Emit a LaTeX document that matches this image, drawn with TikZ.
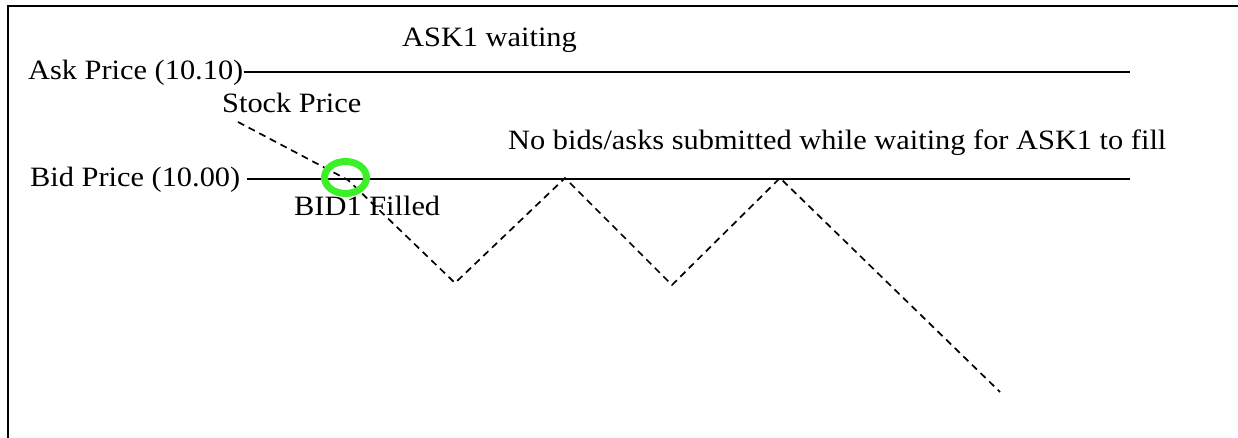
\documentclass[tikz,border=0pt]{standalone}
\usepackage{fontspec}
\setmainfont[FakeStretch=1.085]{Liberation Serif}
\definecolor{hlgreen}{RGB}{60,240,40}
\tikzset{
  lbl/.style={inner sep=0pt, anchor=base west, font=\fontsize{28}{32}\selectfont},
  level/.style={line width=2.2pt, black},
  price/.style={line width=1.7pt, black, dash pattern=on 7pt off 5pt},
  frame/.style={line width=2.8pt, black},
  fillmark/.style={draw=hlgreen, line width=7pt, ellipse, minimum width=42pt, minimum height=32pt, inner sep=0pt}
}
\usetikzlibrary{shapes.geometric}
\begin{document}
\begin{tikzpicture}[x=1pt,y=-1pt]
\useasboundingbox (0,0) rectangle (1238,438);
% frame
\coordinate (fTL) at (8,6);
\coordinate (fTR) at (1240,6);
\coordinate (fBL) at (8,440);
\draw[frame] (fBL) -- (fTL) -- (fTR);
% labels
\node[lbl] (ask) at (28,80) {Ask Price (10.10)};
\node[lbl] (bid) at (30,187) {Bid Price (10.00)};
\node[lbl] (wait) at (402,47) {ASK1 waiting};
\node[lbl] (stock) at (222,113) {Stock Price};
\node[lbl] (nobids) at (508,150) {No bids/asks submitted while waiting for ASK1 to fill};
\node[lbl] (bidfill) at (294,216) {BID1 Filled};
% levels
\coordinate (askS) at (ask.east |- 0,72);
\coordinate (askE) at (1130,72);
\coordinate (bidS) at (247,179);
\coordinate (bidE) at (1130,179);
\draw[level] (askS) -- (askE);
\draw[level] (bidS) -- (bidE);
% stock price path
\coordinate (p0) at (238,122);
\coordinate (p1) at (348,180);
\coordinate (p2) at (455,283);
\coordinate (p3) at (565,178);
\coordinate (p4) at (672,285);
\coordinate (p5) at (780,178);
\coordinate (p6) at (1000,392);
\draw[price] (p0) -- (p1) -- (p2) -- (p3) -- (p4) -- (p5) -- (p6);
% fill marker
\node[fillmark] (mark) at (345.5,177.5) {};
\end{tikzpicture}
\end{document}
